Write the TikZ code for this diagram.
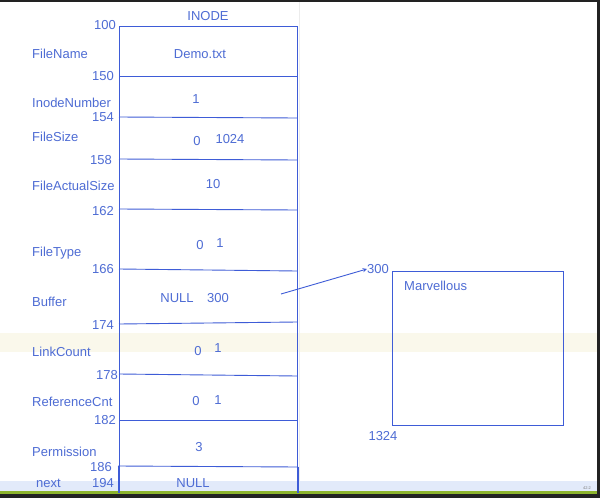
\documentclass[tikz,border=0pt]{standalone}
\usepackage{fontspec}
\setmainfont{Liberation Sans}
\definecolor{ink}{RGB}{62,92,215}
\definecolor{txt}{RGB}{78,108,212}
\definecolor{cream}{RGB}{250,248,235}
\definecolor{bandblue}{RGB}{226,234,250}
\definecolor{barg}{RGB}{140,180,45}
\definecolor{darkbar}{RGB}{34,34,34}
\begin{document}
\begin{tikzpicture}[x=1pt,y=-1pt,
  lbl/.style={text=txt,font=\fontsize{13}{15}\selectfont,inner sep=0pt},
  fname/.style={lbl,anchor=west},
  addr/.style={lbl,anchor=east},
  val/.style={lbl,anchor=center},
  cell/.style={draw=ink,line width=0.9pt},
  arr/.style={draw=ink,line width=0.9pt,-stealth}]
\useasboundingbox (0,0) rectangle (600,498);
% screenshot background
\fill[white] (0,0) rectangle (600,498);
\fill[cream] (0,333) rectangle (600,352);
\fill[bandblue] (0,481) rectangle (600,491);
\draw[gray!15,line width=0.8pt] (299,2) -- (299,481);
\fill[barg] (0,491) rectangle (600,494);
\fill[darkbar] (0,494) rectangle (600,498);
\fill[darkbar] (0,0) rectangle (600,2);
\fill[darkbar] (597,0) rectangle (600,498);
\node[lbl,text=gray,font=\fontsize{4}{5}\selectfont] (clock) at (587,488) {42:2};

% inode box
\coordinate (tl) at (119,26);
\coordinate (tr) at (297,26);
\coordinate (bl) at (119,493);
\coordinate (br) at (297,493);
\draw[cell] (bl) -- (tl) -- (tr) -- (br);
\draw[cell] (119,76) -- (297,76);
\draw[cell] (119,117) -- (297,118);
\draw[cell] (119,159) -- (297,160);
\draw[cell] (119,209) -- (297,210);
\draw[cell] (119,269) -- (297,271);
\draw[cell] (119,324) -- (297,322);
\draw[cell] (119,374) -- (297,376);
\draw[cell] (119,420) -- (297,420);
\draw[cell] (118,466) -- (298,467);
\draw[cell] (118,466) -- (118,493);
\draw[cell] (298,467) -- (298,493);

\node[val] (title) at (208,16) {INODE};

% addresses
\node[addr] (a100) at (116,25) {100};
\node[addr] (a150) at (114,76) {150};
\node[addr] (a154) at (114,117) {154};
\node[addr] (a158) at (112,160) {158};
\node[addr] (a162) at (114,211) {162};
\node[addr] (a166) at (114,269) {166};
\node[addr] (a174) at (114,325) {174};
\node[addr] (a178) at (118,375) {178};
\node[addr] (a182) at (116,420) {182};
\node[addr] (a186) at (112,467) {186};
\node[addr] (a194) at (114,483) {194};

% field names
\node[fname] (fn) at (32,54) {FileName};
\node[fname] (inum) at (32,103) {InodeNumber};
\node[fname] (fsize) at (32,137) {FileSize};
\node[fname] (fasize) at (32,186) {FileActualSize};
\node[fname] (ftype) at (32,253) {FileType};
\node[fname] (buf) at (32,302) {Buffer};
\node[fname] (lc) at (32,352) {LinkCount};
\node[fname] (rc) at (32,402) {ReferenceCnt};
\node[fname] (perm) at (32,452) {Permission};
\node[fname] (nxt) at (36,483) {next};

% values
\node[val] (v1) at (200,54) {Demo.txt};
\node[val] (v2) at (196,99) {1};
\node[val] (v3a) at (197,141) {0};
\node[val] (v3b) at (230,139) {1024};
\node[val] (v4) at (213,184) {10};
\node[val] (v5a) at (200,245) {0};
\node[val] (v5b) at (220,243) {1};
\node[val] (v6a) at (177,298) {NULL};
\node[val] (v6b) at (218,298) {300};
\node[val] (v7a) at (198,351) {0};
\node[val] (v7b) at (218,348) {1};
\node[val] (v8a) at (196,401) {0};
\node[val] (v8b) at (218,400) {1};
\node[val] (v9) at (199,447) {3};
\node[val] (v10) at (193,483) {NULL};

% buffer block
\node[draw=ink,line width=0.9pt,minimum width=171pt,minimum height=154pt,inner sep=0pt] (blk) at (477.5,348) {};
\node[fname] (mv) at (404,286) {Marvellous};
\node[val] (b300) at (378,269) {300};
\node[val] (b1324) at (383,436) {1324};

\coordinate (astart) at (281,294);
\draw[arr] (astart) -- (b300.west);
\end{tikzpicture}
\end{document}
